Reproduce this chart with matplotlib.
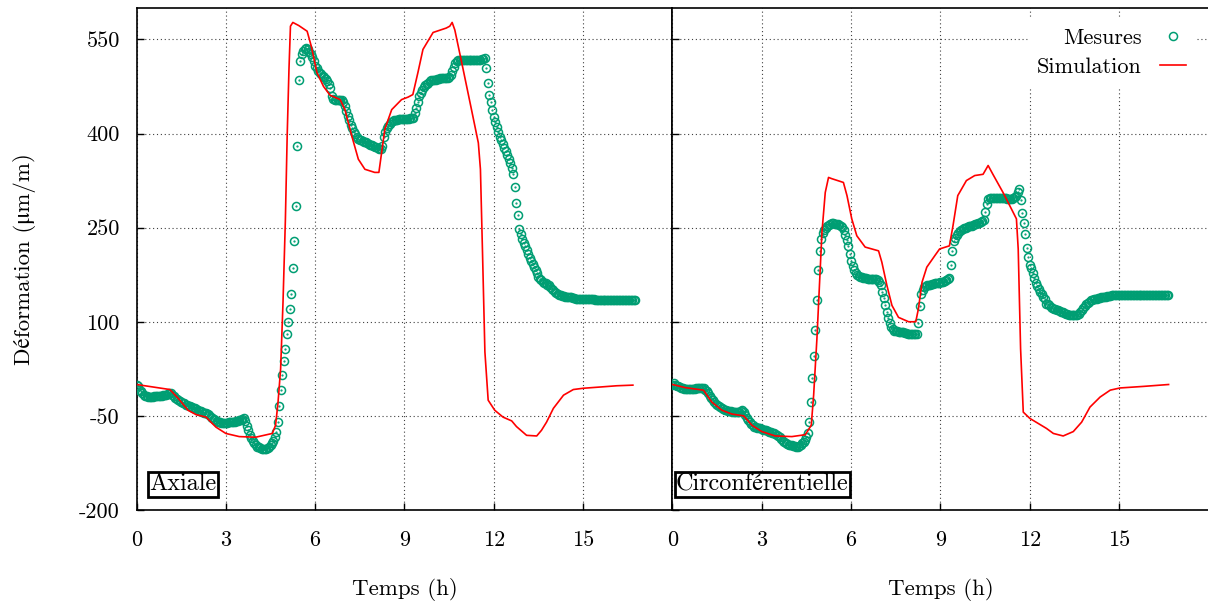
import numpy as np
import matplotlib
matplotlib.use("Agg")
import matplotlib.pyplot as plt

plt.rcParams['font.family'] = ['cmr10', 'STIXGeneral', 'DejaVu Serif']
plt.rcParams['axes.unicode_minus'] = False
plt.rcParams['axes.formatter.use_mathtext'] = False

# mesures : un point toutes les 0.05 h, une ligne par heure
dt_mes = 0.05
v_mes_ax = [
    0, -3, -8, -11, -14, -16, -18, -19, -20, -20, -20, -20, -19, -19, -19, -19, -18, -18, -17, -17,
    -16, -15, -14, -14, -16, -18, -21, -23, -25, -27, -28, -29, -30, -32, -33, -34, -35, -36, -37, -38,
    -39, -41, -42, -43, -44, -45, -45, -46, -47, -49, -51, -53, -55, -57, -58, -59, -60, -61, -61, -61,
    -61, -61, -60, -60, -60, -59, -59, -58, -58, -57, -56, -55, -54, -58, -66, -73, -80, -85, -90, -94,
    -97, -99, -100, -101, -102, -103, -103, -102, -101, -99, -97, -94, -90, -84, -75, -60, -35, -8, 15, 38,
    57, 80, 100, 120, 145, 185, 228, 285, 380, 485, 515, 527, 531, 534, 536, 534, 530, 526, 522, 515,
    508, 504, 500, 497, 495, 492, 490, 487, 484, 479, 472, 460, 455, 454, 454, 454, 454, 454, 453, 450,
    444, 436, 428, 421, 414, 408, 403, 399, 395, 392, 390, 389, 388, 387, 386, 385, 384, 382, 381, 380,
    379, 378, 377, 376, 376, 380, 395, 402, 408, 412, 415, 418, 420, 421, 422, 422, 423, 423, 423, 423,
    423, 423, 423, 423, 424, 424, 425, 432, 440, 450, 459, 465, 470, 474, 477, 479, 481, 483, 485, 485,
    486, 486, 487, 487, 488, 488, 488, 488, 489, 489, 490, 494, 500, 506, 512, 515, 517, 517, 517, 517,
    517, 517, 517, 517, 517, 517, 517, 517, 517, 517, 517, 517, 518, 519, 520, 505, 481, 462, 450, 437,
    427, 418, 410, 402, 395, 389, 383, 377, 372, 366, 360, 353, 345, 335, 315, 290, 270, 248, 240, 232,
    226, 220, 214, 208, 202, 197, 192, 187, 182, 177, 172, 168, 166, 164, 162, 161, 159, 158, 155, 152,
    150, 147, 146, 144, 143, 142, 141, 141, 140, 140, 139, 139, 139, 138, 138, 137, 137, 137, 136, 136,
    136, 136, 136, 136, 136, 136, 136, 136, 135, 135, 135, 135, 135, 135, 135, 135, 135, 135, 135, 135,
    135, 135, 135, 135, 135, 135, 135, 135, 134, 134, 134, 134, 134, 134, 134, 134]

v_mes_ci = [
    0, 2, 0, -2, -3, -4, -5, -6, -7, -7, -7, -7, -7, -7, -7, -7, -6, -6, -6, -6,
    -5, -6, -8, -11, -14, -18, -21, -25, -28, -31, -33, -35, -36, -38, -39, -40, -41, -42, -43, -43,
    -44, -44, -44, -44, -44, -44, -43, -40, -44, -48, -53, -57, -60, -63, -65, -67, -68, -69, -70, -70,
    -71, -72, -73, -73, -74, -75, -76, -77, -78, -79, -80, -82, -84, -87, -90, -92, -94, -95, -96, -97,
    -97, -98, -98, -99, -99, -98, -96, -94, -91, -88, -84, -77, -60, -28, 10, 45, 87, 135, 183, 212,
    232, 242, 246, 249, 252, 254, 256, 257, 257, 256, 256, 255, 254, 253, 251, 246, 238, 230, 220, 208,
    197, 189, 183, 178, 175, 173, 172, 171, 170, 169, 169, 168, 168, 168, 168, 168, 168, 168, 167, 163,
    158, 148, 138, 126, 115, 106, 98, 92, 88, 86, 85, 85, 84, 84, 83, 83, 82, 82, 81, 81,
    81, 80, 80, 80, 81, 98, 125, 145, 151, 155, 157, 158, 159, 159, 160, 160, 161, 161, 162, 162,
    163, 163, 164, 165, 166, 168, 170, 190, 212, 228, 234, 238, 242, 244, 246, 248, 249, 250, 251, 252,
    253, 253, 254, 255, 256, 257, 258, 259, 260, 262, 275, 288, 296, 297, 298, 298, 298, 298, 298, 298,
    298, 297, 297, 297, 297, 296, 296, 296, 296, 297, 299, 301, 306, 312, 294, 274, 257, 240, 218, 203,
    190, 185, 177, 170, 162, 157, 152, 148, 145, 140, 136, 128, 128, 126, 124, 122, 121, 120, 119, 118,
    117, 116, 115, 114, 113, 112, 111, 110, 110, 110, 110, 110, 111, 113, 115, 119, 122, 125, 128, 130,
    132, 134, 135, 136, 137, 137, 138, 138, 139, 139, 140, 140, 141, 141, 141, 142, 142, 142, 142, 142,
    142, 142, 142, 142, 143, 143, 143, 143, 143, 143, 143, 143, 143, 143, 143, 143, 143, 143, 143, 143,
    143, 143, 143, 143, 143, 143, 143, 143, 143, 143, 143, 143, 143, 143]

# simulation, axiale
t_sim_ax = [0, 1.12, 1.4, 1.73, 2.0, 2.34, 2.5, 2.67, 3.0, 3.45, 4.0, 4.56, 4.67, 4.75,
            4.84, 4.92, 5.0, 5.06, 5.12, 5.17, 5.25, 5.45, 5.73, 5.87, 6.06, 6.28, 6.5,
            6.84, 7.0, 7.23, 7.45, 7.67, 8.0, 8.14, 8.23, 8.34, 8.57, 8.9, 9.12, 9.28, 9.45,
            9.62, 9.96, 10.4, 10.52, 10.6, 10.69, 10.97, 11.25, 11.48, 11.55, 11.62, 11.7,
            11.81, 12.03, 12.31, 12.6, 12.76, 13.1, 13.44, 13.6, 13.77, 14.0, 14.34, 14.67,
            15.0, 15.57, 16.13, 16.67]
v_sim_ax = [0, -8, -22, -41, -48, -52, -60, -68, -78, -83, -84, -78, -65, -30,
            25, 131, 263, 396, 502, 571, 577, 572, 563, 539, 497, 475, 461,
            454, 438, 396, 359, 343, 338, 338, 369, 407, 438, 454, 458, 462, 497,
            534, 561, 568, 571, 577, 565, 502, 438, 385, 343, 210, 52,
            -25, -41, -52, -58, -67, -81, -82, -73, -60, -38, -17, -8,
            -6, -4, -2, -1]

# simulation, circonferentielle
t_sim_ci = [0, 0.43, 1.04, 1.32, 1.66, 1.99, 2.39, 2.67, 3.0, 3.45, 4.01, 4.46, 4.66, 4.74,
            4.85, 4.94, 5.02, 5.13, 5.24, 5.35, 5.74, 5.86, 6.02, 6.19, 6.47, 6.92, 7.03,
            7.2, 7.37, 7.59, 7.93, 8.17, 8.26, 8.38, 8.54, 8.82, 8.97, 9.3, 9.42, 9.58, 9.87,
            10.15, 10.43, 10.6, 10.76, 11.1, 11.38, 11.55, 11.61, 11.69, 11.78, 12.0, 12.56,
            12.79, 13.12, 13.46, 13.74, 14.02, 14.36, 14.7, 15.03, 15.82, 16.66]
v_sim_ci = [0, -5, -9, -28, -41, -47, -50, -65, -75, -82, -83, -80, -65, -17,
            73, 163, 243, 306, 330, 328, 322, 301, 264, 237, 219, 213, 195,
            158, 126, 107, 100, 100, 121, 163, 187, 206, 216, 221, 253, 301, 325,
            333, 335, 349, 335, 306, 280, 264, 216, 57, -44, -54, -70,
            -78, -82, -75, -60, -36, -20, -9, -5.5, -3, 0]

t_mes_ax = np.arange(len(v_mes_ax)) * dt_mes
t_mes_ci = np.arange(len(v_mes_ci)) * dt_mes

panels = [("Axiale", t_mes_ax, v_mes_ax, t_sim_ax, v_sim_ax),
          ("Circonférentielle", t_mes_ci, v_mes_ci, t_sim_ci, v_sim_ci)]

green = '#009e73'
red = '#ff0000'

fig = plt.figure(figsize=(12.08, 6.06), dpi=100)
ax1 = fig.add_axes([0.1130, 0.1584, 0.4437, 0.8284])
ax2 = fig.add_axes([0.5567, 0.1584, 0.4437, 0.8284])

for i, (ax, (name, tm, vm, ts, vs)) in enumerate(zip([ax1, ax2], panels)):
    ax.plot(tm, vm, 'o', mfc='none', mec=green, ms=5.8, mew=1.1, label='Mesures', zorder=3)
    ax.plot(tm, vm, '.', color=green, ms=1.2, zorder=3)
    ax.plot(ts, vs, '-', color=red, lw=1.2, label='Simulation', zorder=4)
    ax.set_xlim(0, 18)
    ax.set_ylim(-200, 600)
    ax.set_xticks(np.arange(0, 16, 3))
    ax.set_yticks(np.arange(-200, 551, 150))
    ax.grid(True, color='0.25', lw=0.8, ls=(0, (1, 2.5)))
    ax.tick_params(direction='in', length=5, width=1, labelsize=16)
    ax.tick_params(axis='x', pad=15)
    ax.tick_params(axis='y', pad=12)
    for s in ax.spines.values():
        s.set_linewidth(1.2)
    ax.set_xlabel('Temps (h)', fontsize=16.5, labelpad=20)
    if i == 0:
        ax.set_ylabel('Déformation (\u03bcm/m)', fontsize=16.5, labelpad=31)
    else:
        ax.tick_params(labelleft=False)
        ax.spines['right'].set_visible(False)
    ax.text(0.42 if i == 0 else 0.12, -159, name, fontsize=17.5, va='center', ha='left',
            bbox=dict(facecolor='white', edgecolor='black', lw=2, pad=1.0), zorder=6)

leg = ax2.legend(loc='upper right', markerfirst=False, frameon=True, fancybox=False,
                 edgecolor='white', facecolor='white', framealpha=1, fontsize=16,
                 handlelength=1.2, labelspacing=0.45, borderaxespad=0.5,
                 bbox_to_anchor=(0.996, 1.0))

fig.savefig('out.png', dpi=100)
